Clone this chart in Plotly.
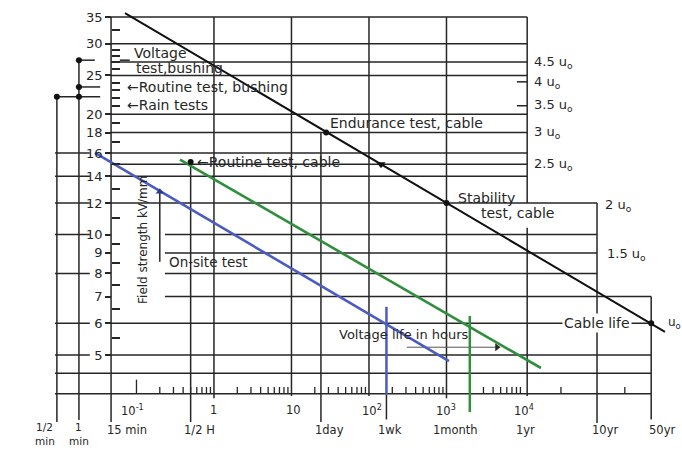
import numpy as np
import plotly.graph_objects as go

# ---------------- data (time in hours, field strength in kV/mm) ----------------
X_RANGE_H = [0.001734, 1.094e6]          # visible time span of the sheet
Y_RANGE_E = [2.894, 38.6]                # visible field-strength span

Y_TICK_VALUES = [5, 6, 7, 8, 9, 10, 12, 14, 16, 18, 20, 25, 30, 35]
Y_TICK_TEXT = ["5", "6", "7", "8", "9", "10", "12", "14", "16", "18", "20", "25", "30", "35"]
Y_MINOR_VALUES = [5.5, 6.5, 7.5, 8.5, 9.5, 11, 13, 15, 17, 19, 21, 22, 23, 24, 26, 27, 28, 29, 32.5]

# tick marks standing on the time scale line (4 kV/mm level)
X_MAJOR_TICKS = [0.1]
X_MINOR_TICKS = [0.2, 0.3, 0.4, 0.5, 0.6, 0.7, 0.8, 0.9,
                 2, 3, 4, 5, 6, 7, 8, 9,
                 20, 30, 40, 50, 60, 70, 80, 90,
                 200, 300, 400, 500, 600, 700, 800, 900,
                 2000, 3000, 4000, 5000, 6000, 7000, 8000, 9000,
                 30000, 200000]
TICK_BASE_E = 4.0
MAJOR_TICK_TOP_E = 4.34
MINOR_TICK_TOP_E = 4.16

# cable life line (black) and marked test points on it
CABLE_H = [0.0711, 659000]
CABLE_E = [35.8, 5.71]
CABLE_DOTS_H = [28, 1000, 438000]
CABLE_DOTS_E = [18, 12, 6]
CABLE_ARROW_H = [143]
CABLE_ARROW_E = [15]

# on-site test line (blue) and routine test line (green)
BLUE_H = [0.0292, 1077]
BLUE_E = [16.0, 4.83]
GREEN_H = [0.364, 16560]
GREEN_E = [15.4, 4.64]
GREEN_DOT_H = [0.5]
GREEN_DOT_E = [15.2]
ONSITE_ARROW_H = [0.2]
ONSITE_ARROW_E = [12.8]

# bushing test points (left brackets)
BUSHING_DOTS_H = [0.0181, 0.0181, 0.0094, 0.0181]
BUSHING_DOTS_E = [27.3, 23.4, 22.1, 22.1]

# horizontal grid segments: (field strength, from hours, to hours)
H_GRID = [
    (35, 0.047, 11000), (30, 0.047, 11000), (27, 0.047, 11000), (25, 0.047, 11000),
    (20, 0.047, 11000), (18, 0.047, 11000), (16, 0.047, 11000), (15, 0.047, 11000),
    (14, 0.047, 11000), (12, 0.047, 87600), (10, 0.233, 87600), (9, 0.233, 87600),
    (8, 0.233, 87600), (7, 0.233, 438000), (6, 0.047, 438000), (5, 0.047, 438000),
    (4.5, 0.0089, 438000), (4, 0.0089, 438000),
    (16, 0.0089, 0.025), (14, 0.0089, 0.025), (12, 0.0089, 0.025), (10, 0.0089, 0.025),
    (8, 0.0089, 0.025), (6, 0.0089, 0.025), (5, 0.0089, 0.025),
    (24.1, 8100, 11000), (21.0, 8100, 11000),
    (27.3, 0.0165, 0.029), (23.4, 0.0165, 0.034), (22.1, 0.0089, 0.034),
    (27.3, 0.061, 0.082),
]
# vertical grid segments: (hours, from kV/mm, to kV/mm)
V_GRID = [
    (0.0094, 22.1, 3.40), (0.0181, 27.3, 3.44), (0.047, 35, 3.40), (0.5, 15.2, 3.40),
    (1, 35, 3.9), (10, 35, 3.95), (24, 18, 3.40), (100, 35, 3.95), (168, 3.98, 3.45),
    (1000, 35, 3.9), (11000, 35, 12), (11000, 10.4, 3.95), (87600, 12, 3.38),
    (438000, 7, 3.45), (0.2, 12.8, 8.55),
]
BLUE_VERTICAL = [(168, 6.6, 3.98)]
GREEN_VERTICAL = [(2000, 6.26, 3.6)]
LIFE_POINTER = [(5.23, 309, 4487)]

# text labels: (text, hours, kV/mm, x-anchor, font size)
TEXTS = [
    ("Voltage", 0.0880, 28.45, "left", 14),
    ("test,bushing", 0.0930, 26.1, "left", 14),
    ("←Routine test, bushing", 0.0715, 23.4, "left", 14),
    ("←Rain tests", 0.0715, 21.1, "left", 14),
    ("←Routine test, cable", 0.570, 15.2, "left", 14),
    ("Endurance test, cable", 30.0, 19.0, "left", 14),
    ("Stability", 1330, 12.35, "left", 14),
    ("test, cable", 2640, 11.32, "left", 14),
    ("On-site test", 0.245, 8.55, "left", 13.5),
    ("Voltage life in hours", 38.5, 5.64, "left", 13),
    ("u<sub>o</sub>", 690000, 6.0, "left", 12),
    ("4.5 u<sub>o</sub>", 12700, 27, "left", 13),
    ("4 u<sub>o</sub>", 12700, 24, "left", 13),
    ("3.5 u<sub>o</sub>", 12700, 21, "left", 13),
    ("3 u<sub>o</sub>", 12700, 18, "left", 13),
    ("2.5 u<sub>o</sub>", 12700, 15, "left", 13),
    ("2 u<sub>o</sub>", 105000, 11.8, "left", 13),
    ("1.5 u<sub>o</sub>", 110000, 8.9, "left", 13),
]
# time-axis labels: (text, hours, kV/mm, font size)
X_LABELS = [
    ("10<sup>-1</sup>", 0.0876, 3.64, 11.5), ("1", 1, 3.64, 11.5), ("10", 10.5, 3.64, 11.5),
    ("10<sup>2</sup>", 109, 3.64, 11.5), ("10<sup>3</sup>", 1000, 3.64, 11.5),
    ("10<sup>4</sup>", 10000, 3.64, 11.5),
    ("1/2", 0.0066, 3.30, 10.5), ("min", 0.0066, 3.04, 10.5),
    ("1", 0.0181, 3.30, 10.5), ("min", 0.0181, 3.04, 10.5),
    ("15 min", 0.0755, 3.25, 11.5), ("1/2 H", 0.66, 3.25, 11.5), ("1day", 31.4, 3.25, 11.5),
    ("1wk", 186, 3.25, 11.5), ("1month", 1300, 3.25, 11.5), ("1yr", 10500, 3.25, 11.5),
    ("10yr", 111000, 3.25, 11.5), ("50yr", 600000, 3.25, 11.5),
]

INK = "#262626"
BLUE = "#4a5cc0"
GREEN = "#2f8f3c"
FONT = "DejaVu Sans"

L = np.log10
X0, X1 = L(X_RANGE_H[0]), L(X_RANGE_H[1])
Y0, Y1 = L(Y_RANGE_E[0]), L(Y_RANGE_E[1])


def h_segments(segs):
    xs, ys = [], []
    for v, a, b in segs:
        xs += [a, b, None]
        ys += [v, v, None]
    return xs, ys


def v_segments(segs):
    xs, ys = [], []
    for h, a, b in segs:
        xs += [h, h, None]
        ys += [a, b, None]
    return xs, ys


fig = go.Figure()

hx, hy = h_segments(H_GRID)
fig.add_trace(go.Scatter(x=hx, y=hy, mode="lines", line=dict(color=INK, width=1.5)))
vx, vy = v_segments(V_GRID)
fig.add_trace(go.Scatter(x=vx, y=vy, mode="lines", line=dict(color=INK, width=1.5)))

# tick marks on the time scale
tx, ty = v_segments([(h, TICK_BASE_E, MINOR_TICK_TOP_E) for h in X_MINOR_TICKS]
                    + [(h, TICK_BASE_E, MAJOR_TICK_TOP_E) for h in X_MAJOR_TICKS])
fig.add_trace(go.Scatter(x=tx, y=ty, mode="lines", line=dict(color=INK, width=1.3)))

px_, py_ = h_segments(LIFE_POINTER)
fig.add_trace(go.Scatter(x=px_, y=py_, mode="lines", line=dict(color="#555", width=1)))
fig.add_trace(go.Scatter(x=[LIFE_POINTER[0][2]], y=[LIFE_POINTER[0][0]], mode="markers",
                         marker=dict(symbol="triangle-right", size=7, color=INK)))

bx, by = v_segments(BLUE_VERTICAL)
fig.add_trace(go.Scatter(x=bx, y=by, mode="lines", line=dict(color=BLUE, width=2.5)))
gx, gy = v_segments(GREEN_VERTICAL)
fig.add_trace(go.Scatter(x=gx, y=gy, mode="lines", line=dict(color=GREEN, width=2.5)))

fig.add_trace(go.Scatter(x=BLUE_H, y=BLUE_E, mode="lines", line=dict(color=BLUE, width=2.6)))
fig.add_trace(go.Scatter(x=GREEN_H, y=GREEN_E, mode="lines", line=dict(color=GREEN, width=2.6)))
fig.add_trace(go.Scatter(x=CABLE_H, y=CABLE_E, mode="lines", line=dict(color="#111", width=2)))

fig.add_trace(go.Scatter(x=CABLE_DOTS_H, y=CABLE_DOTS_E, mode="markers",
                         marker=dict(size=6, color="#111")))
fig.add_trace(go.Scatter(x=CABLE_ARROW_H, y=CABLE_ARROW_E, mode="markers",
                         marker=dict(symbol="triangle-down", size=8, color="#111")))
fig.add_trace(go.Scatter(x=GREEN_DOT_H, y=GREEN_DOT_E, mode="markers",
                         marker=dict(size=6, color="#111")))
fig.add_trace(go.Scatter(x=ONSITE_ARROW_H, y=ONSITE_ARROW_E, mode="markers",
                         marker=dict(symbol="triangle-up", size=7, color="#2b3a8a")))
fig.add_trace(go.Scatter(x=BUSHING_DOTS_H, y=BUSHING_DOTS_E, mode="markers",
                         marker=dict(size=6, color="#111")))

for text, h, v, anchor, size in TEXTS:
    fig.add_annotation(x=L(h), y=L(v), xref="x", yref="y", text=text, showarrow=False,
                       xanchor=anchor, yanchor="middle",
                       font=dict(family=FONT, size=size, color=INK))

fig.add_annotation(x=L(87600), y=L(6), xref="x", yref="y", text="Cable life", showarrow=False,
                   xanchor="center", yanchor="middle", bgcolor="white", borderpad=1,
                   font=dict(family=FONT, size=14, color=INK))
fig.add_annotation(x=L(0.121), y=L(9.69), xref="x", yref="y", text="Field strength kV/mm",
                   showarrow=False, textangle=-90, xanchor="center", yanchor="middle",
                   font=dict(family=FONT, size=12, color=INK))

for text, h, v, size in X_LABELS:
    fig.add_annotation(x=L(h), y=L(v), xref="x", yref="y", text=text, showarrow=False,
                       xanchor="center", yanchor="middle",
                       font=dict(family=FONT, size=size, color=INK))


def frac(val, lo, hi):
    return (L(val) - lo) / (hi - lo)


fig.update_layout(
    width=682, height=450,
    margin=dict(l=0, r=0, t=0, b=0),
    paper_bgcolor="white", plot_bgcolor="rgba(0,0,0,0)",
    showlegend=False, hovermode=False,
    xaxis=dict(type="log", range=[X0, X1], visible=False, domain=[0, 1]),
    yaxis=dict(type="log", range=[Y0, Y1], anchor="free", position=frac(0.047, X0, X1),
               side="left", tickmode="array", tickvals=Y_TICK_VALUES, ticktext=Y_TICK_TEXT,
               ticks="outside", ticklen=6, tickwidth=1.5, tickcolor=INK,
               tickfont=dict(family=FONT, size=13, color=INK),
               showgrid=False, zeroline=False, showline=False,
               minor=dict(tickmode="array", tickvals=Y_MINOR_VALUES, ticks="inside",
                          ticklen=8, tickwidth=1.5, tickcolor=INK, showgrid=False)),
)

fig.write_html("out.html", config={"displayModeBar": False},
               post_script="document.body.style.margin='0px';")
